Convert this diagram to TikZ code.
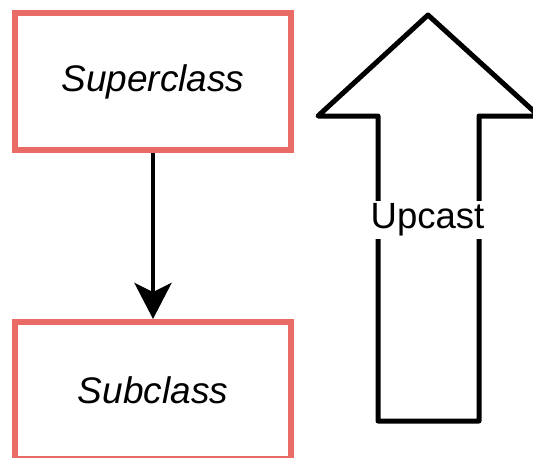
\documentclass[tikz,border=0pt]{standalone}
\usepackage{fontspec}
\setmainfont{Liberation Sans}
\usetikzlibrary{arrows.meta}
\definecolor{boxred}{HTML}{EA6B66}
\begin{document}
\begin{tikzpicture}[x=1pt,y=-1pt,
  classbox/.style={draw=boxred, line width=6pt, minimum width=276pt, minimum height=137pt, inner sep=0pt, font=\fontsize{37}{42}\selectfont\itshape},
  bigarrow/.style={draw=black, line width=5pt, line join=round, fill=white},
  link/.style={draw=black, line width=4pt, -{Stealth[length=36pt,width=37pt,inset=9pt]}}]
\useasboundingbox (0,0) rectangle (533,458);
\begin{scope}
\clip (0,0) rectangle (533,458);
\node[classbox] (super) at (153,81.5) {Superclass};
\node[classbox] (sub) at (153,390.5) {Subclass};
\draw[link] (super.south) -- (sub.north);
\coordinate (tip) at (428,15);
\coordinate (hl) at (318,116);
\coordinate (sl) at (378,116);
\coordinate (bl) at (378,421);
\coordinate (br) at (479,421);
\coordinate (sr) at (479,116);
\coordinate (hr) at (539,116);
\draw[bigarrow] (tip) -- (hl) -- (sl) -- (bl) -- (br) -- (sr) -- (hr) -- cycle;
\node[fill=white, inner sep=3pt, font=\fontsize{36.5}{41}\selectfont] (up) at (427.5,220) {Upcast};
\end{scope}
\end{tikzpicture}
\end{document}
